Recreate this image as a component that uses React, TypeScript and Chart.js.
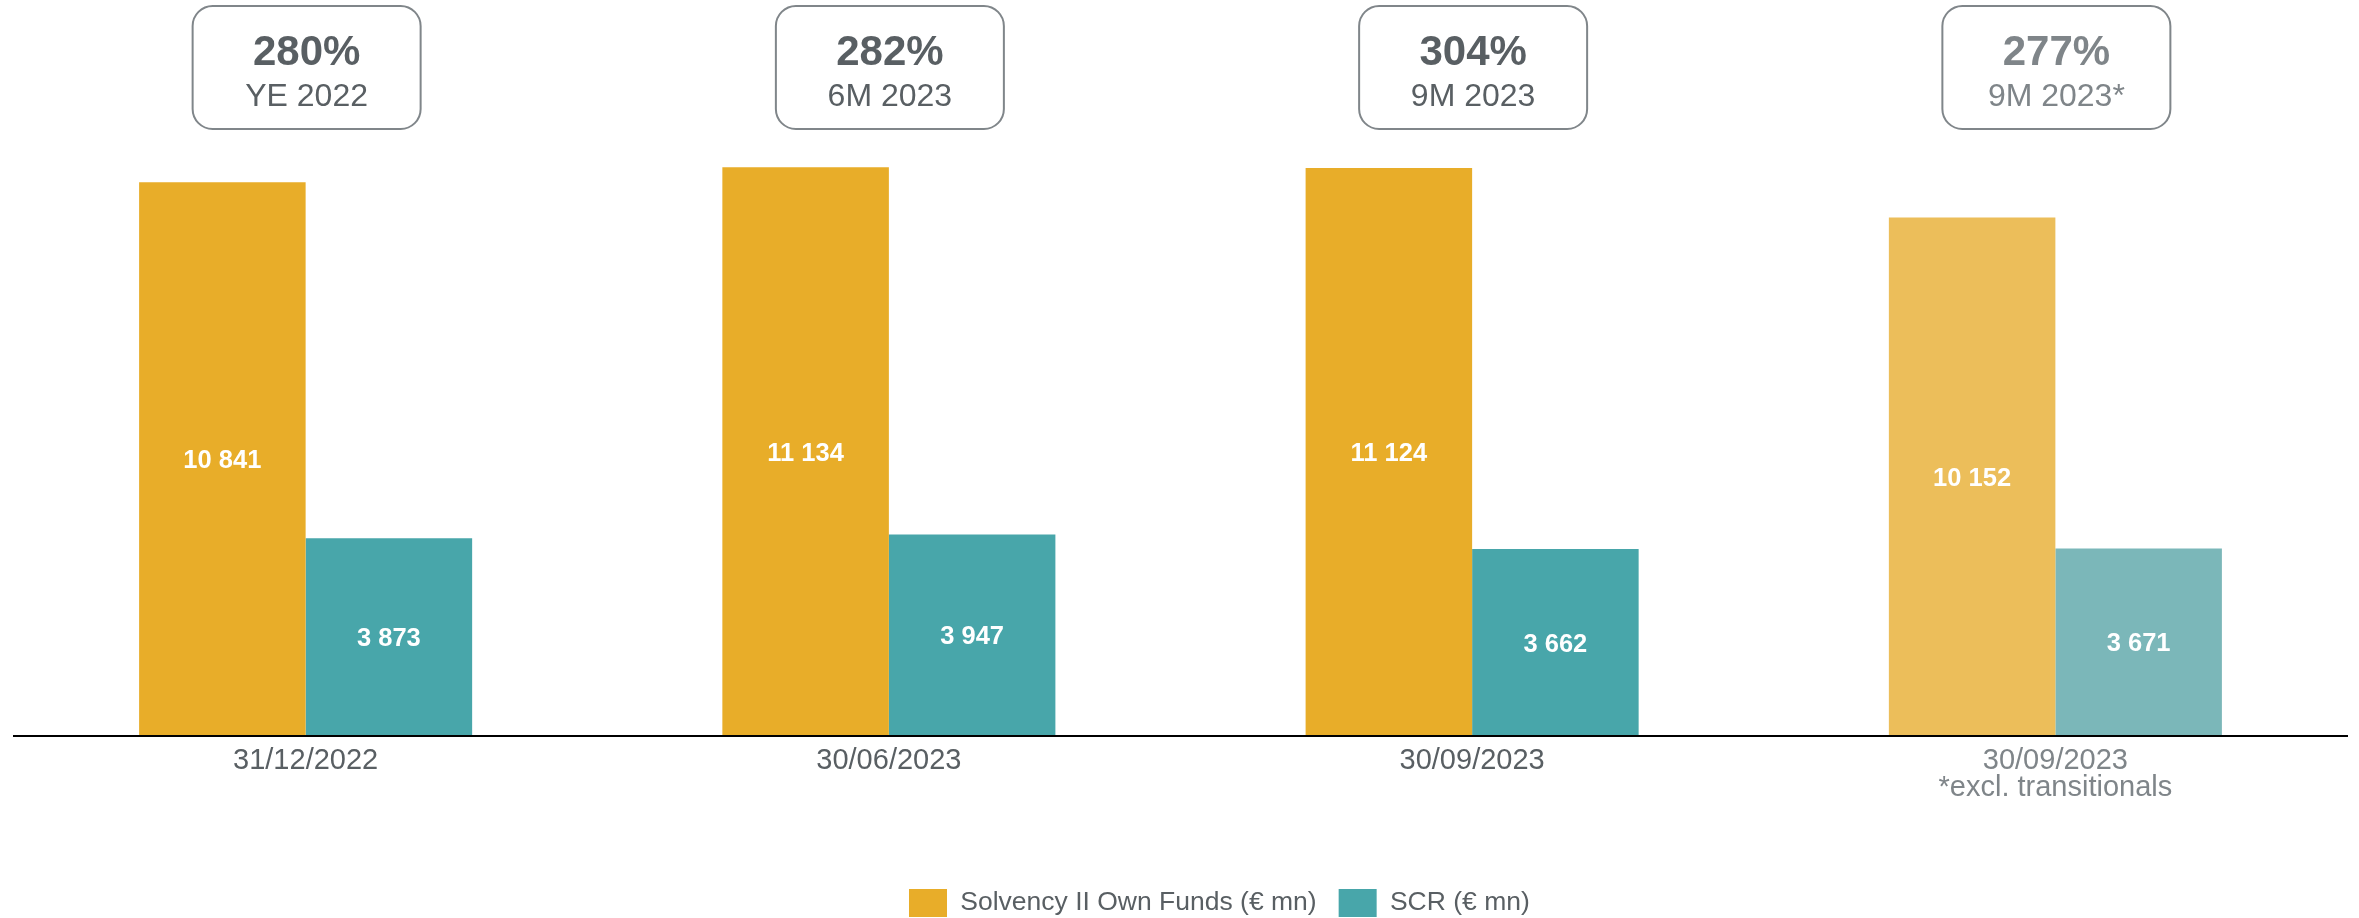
import React, { useEffect, useRef } from 'react';
import { Chart, registerables } from 'chart.js';

Chart.register(...registerables);

// ---- data ----
const categories: (string | string[])[] = [
  '31/12/2022',
  '30/06/2023',
  '30/09/2023',
  ['30/09/2023', '*excl. transitionals'],
];
const ownFunds = [10841, 11134, 11124, 10152];
const scr = [3873, 3947, 3662, 3671];
const ratios = ['280%', '282%', '304%', '277%'];
const ratioPeriods = ['YE 2022', '6M 2023', '9M 2023', '9M 2023*'];
const seriesNames = ['Solvency II Own Funds (€ mn)', 'SCR (€ mn)'];
const fadedIndex = 3;

// ---- style ----
const FONT = "'Liberation Sans', Arial, Helvetica, sans-serif";
const GOLD = '#E8AD29';
const GOLD_LIGHT = '#ECBE5A';
const TEAL = '#48A6AA';
const TEAL_LIGHT = '#7BB7B9';
const TEXT_DARK = '#595F63';
const TEXT_LIGHT = '#7F8589';
const BOX_BORDER = '#80868A';

const W = 2359;
const H = 918;

const fmt = (v: number) => String(v).replace(/\B(?=(\d{3})+(?!\d))/g, ' ');

const valueLabels = {
  id: 'valueLabels',
  afterDatasetsDraw(chart: any) {
    const ctx = chart.ctx;
    ctx.save();
    const size = 25.5;
    ctx.font = `bold ${size}px ${FONT}`;
    ctx.fillStyle = '#FFFFFF';
    ctx.textAlign = 'center';
    ctx.textBaseline = 'alphabetic';
    chart.data.datasets.forEach((ds: any, di: number) => {
      const meta = chart.getDatasetMeta(di);
      meta.data.forEach((bar: any, i: number) => {
        const v = ds.data[i] as number;
        const mid = (bar.y + bar.base) / 2;
        ctx.fillText(fmt(v), bar.x, mid + size * 0.358);
      });
    });
    ctx.restore();
  },
};

const ratioBoxes = {
  id: 'ratioBoxes',
  afterDraw(chart: any) {
    const ctx = chart.ctx;
    const xs = chart.scales.x;
    ctx.save();
    ratios.forEach((r, i) => {
      const cx = xs.getPixelForValue(i) + 1;
      const bw = 228;
      const top = 6;
      const bh = 123;
      ctx.beginPath();
      ctx.roundRect(cx - bw / 2, top, bw, bh, 20);
      ctx.lineWidth = 2;
      ctx.strokeStyle = BOX_BORDER;
      ctx.stroke();
      ctx.fillStyle = i === fadedIndex ? TEXT_LIGHT : TEXT_DARK;
      ctx.textAlign = 'center';
      ctx.textBaseline = 'alphabetic';
      ctx.font = `bold 42px ${FONT}`;
      ctx.fillText(r, cx, 65);
      ctx.font = `32px ${FONT}`;
      ctx.fillText(ratioPeriods[i], cx, 106);
    });
    ctx.restore();
  },
};

const legendPlace = {
  id: 'legendPlace',
  afterLayout(chart: any) {
    const lg = chart.legend;
    if (!lg || !lg.lineWidths) return;
    const pad = lg.options.labels.padding;
    const startX = (lg.left + pad + lg.right - lg.lineWidths[0]) / 2;
    const dx = 909 - startX;
    lg.left += dx;
    lg.right += dx;
    const dy = 889 - pad - lg.top;
    lg.top += dy;
    lg.bottom += dy;
  },
};

export default function App() {
  const ref = useRef<HTMLCanvasElement | null>(null);

  useEffect(() => {
    if (!ref.current) return;
    const chart = new Chart(ref.current, {
      type: 'bar',
      data: {
        labels: categories as any,
        datasets: [
          {
            label: seriesNames[0],
            data: ownFunds,
            backgroundColor: (c: any) => (c.dataIndex === fadedIndex ? GOLD_LIGHT : GOLD),
            borderWidth: 0,
            categoryPercentage: 0.571,
            barPercentage: 1,
          },
          {
            label: seriesNames[1],
            data: scr,
            backgroundColor: (c: any) => (c.dataIndex === fadedIndex ? TEAL_LIGHT : TEAL),
            borderWidth: 0,
            categoryPercentage: 0.571,
            barPercentage: 1,
          },
        ],
      },
      options: {
        responsive: false,
        animation: false,
        layout: { padding: { left: 14, right: 12, top: 21, bottom: 22 } },
        scales: {
          x: {
            grid: { display: false, drawTicks: false },
            border: { display: true, color: '#000000', width: 2, z: 1 },
            ticks: {
              color: (c: any) => (c.index === fadedIndex ? TEXT_LIGHT : TEXT_DARK),
              font: { family: FONT, size: 29, lineHeight: 0.92 },
              padding: 12,
              maxRotation: 0,
              autoSkip: false,
            },
            afterFit: (s: any) => {
              s.height = 100;
            },
          },
          y: { display: false, min: 0, max: 14000 },
        },
        plugins: {
          legend: {
            position: 'bottom',
            labels: {
              boxWidth: 38,
              boxHeight: 28,
              padding: 22,
              color: TEXT_DARK,
              font: { family: FONT, size: 26.5 },
            },
          },
          tooltip: { enabled: false },
        },
      } as any,
      plugins: [valueLabels, ratioBoxes, legendPlace],
    });
    return () => chart.destroy();
  }, []);

  return (
    <div style={{ position: 'absolute', left: 0, top: 0, width: W, height: H, background: '#fff' }}>
      <canvas ref={ref} width={W} height={H} style={{ display: 'block', width: W, height: H }} />
    </div>
  );
}
